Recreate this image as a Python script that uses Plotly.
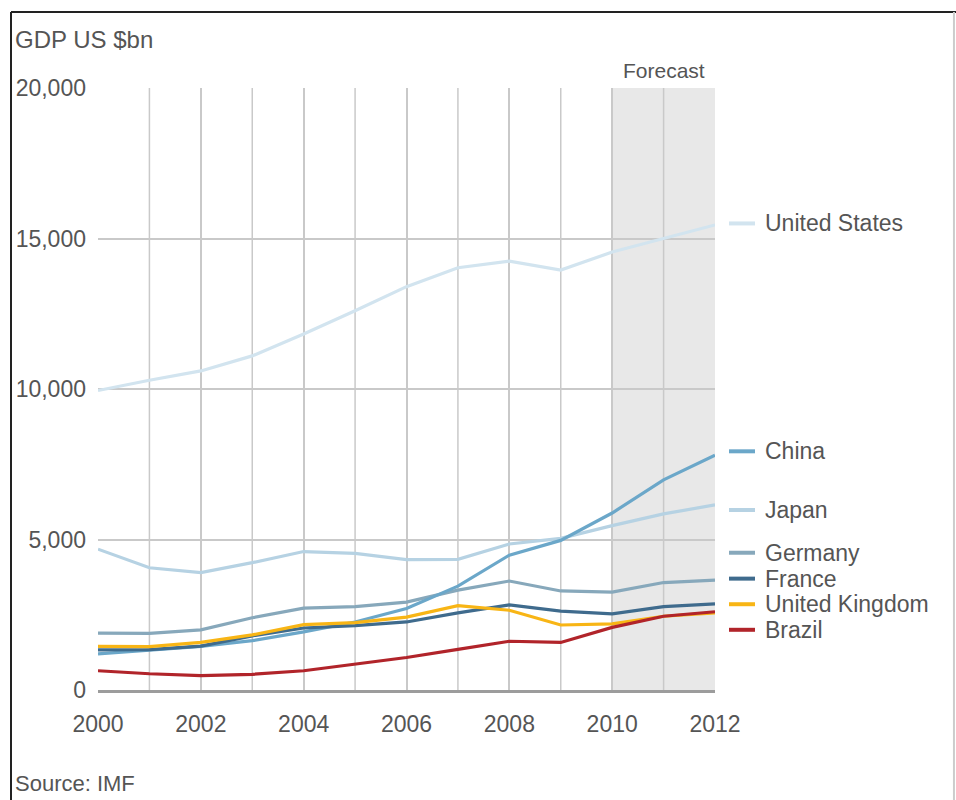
import plotly.graph_objects as go

# GDP in US$ billions, IMF figures (2010-2012 forecast)
years = list(range(2000, 2013))

united_states = [9950, 10290, 10600, 11100, 11830, 12600, 13400, 14030, 14250, 13950, 14550, 15000, 15450]
china = [1200, 1320, 1450, 1640, 1930, 2260, 2710, 3450, 4480, 4970, 5880, 6980, 7800]
japan = [4680, 4060, 3900, 4230, 4600, 4540, 4330, 4340, 4850, 5040, 5460, 5850, 6150]
germany = [1890, 1880, 2000, 2400, 2720, 2770, 2920, 3320, 3620, 3290, 3250, 3570, 3650]
france = [1330, 1340, 1460, 1800, 2060, 2140, 2260, 2560, 2830, 2620, 2530, 2770, 2860]
united_kingdom = [1450, 1440, 1580, 1830, 2170, 2240, 2420, 2800, 2650, 2160, 2200, 2450, 2560]
brazil = [640, 540, 480, 520, 640, 860, 1080, 1350, 1620, 1580, 2080, 2450, 2600]

series = [
    ("United States", united_states, "#d2e4ef"),
    ("Japan", japan, "#b6d2e3"),
    ("Germany", germany, "#87a8bb"),
    ("China", china, "#6ba7c9"),
    ("France", france, "#3f6b8d"),
    ("United Kingdom", united_kingdom, "#f8b515"),
    ("Brazil", brazil, "#b1242a"),
]

# label rows on the right-hand side (value-axis positions, spread so they don't collide)
label_rows = {
    "United States": 15500,
    "China": 7930,
    "Japan": 5980,
    "Germany": 4560,
    "France": 3700,
    "United Kingdom": 2850,
    "Brazil": 2000,
}

forecast_start, forecast_end = 2010, 2012
y_ticks = [0, 5000, 10000, 15000, 20000]
x_ticks = [2000, 2002, 2004, 2006, 2008, 2010, 2012]

TEXT = "#555555"
FONT = "Liberation Sans, Arial, sans-serif"

fig = go.Figure()
for name, values, color in series:
    fig.add_trace(go.Scatter(
        x=years, y=values, mode="lines", name=name,
        line=dict(color=color, width=3.2), showlegend=False,
    ))

shapes = [
    # forecast band
    dict(type="rect", xref="x", yref="y", x0=forecast_start, x1=forecast_end,
         y0=0, y1=20000, fillcolor="#e8e8e8", line=dict(width=0), layer="below"),
    # outer frame
    dict(type="line", xref="paper", yref="paper", x0=-0.141, x1=1.5, y0=1.1262, y1=1.1262,
         line=dict(color="#222222", width=2)),
    dict(type="line", xref="paper", yref="paper", x0=-0.141, x1=-0.141, y0=1.1262, y1=-0.2,
         line=dict(color="#222222", width=2)),
    dict(type="line", xref="paper", yref="paper", x0=1.3873, x1=1.3873, y0=1.1262, y1=-0.2,
         line=dict(color="#cccccc", width=2)),
]

annotations = [
    dict(text="GDP US $bn", xref="paper", yref="paper", x=-0.138, y=1.0806,
         xanchor="left", yanchor="middle", showarrow=False,
         font=dict(family=FONT, size=24, color=TEXT)),
    dict(text="Forecast", xref="x", yref="paper", x=(forecast_start + forecast_end) / 2, y=1.0299,
         xanchor="center", yanchor="middle", showarrow=False,
         font=dict(family=FONT, size=21, color=TEXT)),
    dict(text="Source: IMF", xref="paper", yref="paper", x=-0.138, y=-0.155,
         xanchor="left", yanchor="middle", showarrow=False,
         font=dict(family=FONT, size=22, color=TEXT)),
]

for name, values, color in series:
    ly = label_rows[name]
    shapes.append(dict(type="line", xref="paper", yref="y", x0=1.0227, x1=1.0648, y0=ly, y1=ly,
                       line=dict(color=color, width=4)))
    annotations.append(dict(text=name, xref="paper", yref="y", x=1.0794, y=ly,
                            xanchor="left", yanchor="middle", showarrow=False, borderpad=0,
                            font=dict(family=FONT, size=23, color=TEXT)))

fig.update_layout(
    width=956, height=800,
    margin=dict(l=98, r=241, t=88, b=110),
    paper_bgcolor="white", plot_bgcolor="white",
    font=dict(family=FONT, color=TEXT),
    shapes=shapes, annotations=annotations,
    xaxis=dict(
        range=[2000, 2012], tickvals=x_ticks, ticktext=[str(v) for v in x_ticks],
        showgrid=True, gridcolor="#c9c9c9", gridwidth=1.5,
        showline=True, linecolor="#9c9c9c", linewidth=3, zeroline=False,
        ticks="", ticklabelstandoff=11, tickfont=dict(family=FONT, size=23, color=TEXT),
        fixedrange=True,
    ),
    yaxis=dict(
        range=[0, 20000], tickvals=y_ticks, ticktext=[f"{v:,}" for v in y_ticks],
        showgrid=True, gridcolor="#c9c9c9", gridwidth=1.5, zeroline=False,
        ticks="", ticklabelstandoff=11, tickfont=dict(family=FONT, size=23, color=TEXT),
        fixedrange=True,
    ),
)

# vertical grid every year (tick labels only every other year)
for yr in years:
    if yr not in x_ticks:
        fig.add_shape(type="line", xref="x", yref="y", x0=yr, x1=yr, y0=0, y1=20000,
                      line=dict(color="#c9c9c9", width=1.5), layer="below")

fig.write_html("out.html")
